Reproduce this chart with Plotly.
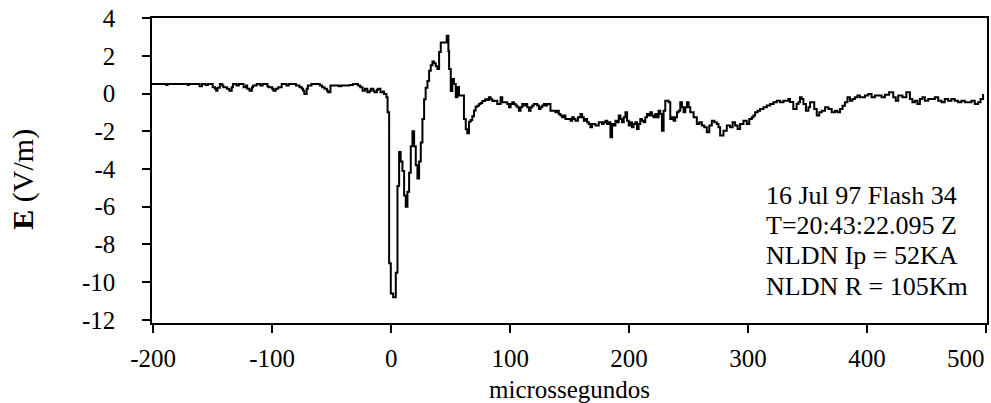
import plotly.graph_objects as go

# ---- data (time in microseconds, field in V/m) ----
t_pre = [-201, -190, -189, -188, -172, -171, -170, -163, -161, -159, -156, -154, -152,
         -150, -148, -147, -146, -144, -142, -141, -138, -136, -134, -133, -130, -128,
         -127, -124, -122, -121, -119, -117, -116, -113, -110, -108, -106, -104, -103,
         -102, -100, -99, -97, -95, -92, -88, -86, -83, -80, -77, -75, -74, -73, -71,
         -70, -67, -63, -60, -58, -56, -54, -53, -51, -46, -44, -42, -38, -35, -32,
         -28, -26, -24, -22, -20, -18, -17, -15, -14, -12, -11, -9, -7, -6, -4]
e_pre = [0.50, 0.50, 0.45, 0.50, 0.50, 0.45, 0.50, 0.50, 0.38, 0.50, 0.45, 0.50, 0.50,
         0.33, 0.25, 0.15, 0.30, 0.50, 0.42, 0.33, 0.25, 0.15, 0.33, 0.50, 0.42, 0.50,
         0.50, 0.33, 0.42, 0.25, 0.15, 0.33, 0.42, 0.50, 0.42, 0.50, 0.50, 0.38, 0.33,
         0.33, 0.25, 0.15, 0.25, 0.33, 0.50, 0.42, 0.50, 0.50, 0.42, 0.33, 0.25, 0.15,
         -0.03, 0.25, 0.42, 0.50, 0.50, 0.42, 0.33, 0.25, 0.15, 0.06, 0.42, 0.42, 0.38,
         0.42, 0.42, 0.45, 0.50, 0.42, 0.33, 0.15, 0.25, 0.06, 0.15, 0.25, 0.15, 0.06,
         0.20, 0.25, 0.06, 0.10, -0.03, -0.20]

t_pulse = [-3, -1.7, -0.3, 1.7, 3.9, 5.3, 6.7, 8, 9.5, 10.9, 12.3, 13.7, 15.1, 16.5,
           17.9, 19.3, 20.7, 22.1, 23.5, 24.9, 26.3, 27.7, 29, 30.5, 31.9, 33.3, 34.7,
           36, 37.5, 38.9, 40.3, 41.7, 44.5, 46.7, 48.1, 48.7, 50.1, 51.4, 52.8, 54.3,
           55.6, 57, 59.8, 61.2, 62.7, 64, 65.4, 66.8, 68.2, 69.6, 71, 72.4, 73.8,
           75.2, 76.6, 79, 80.6, 82.2, 83.6, 85, 86.4, 89.2]
e_pulse = [-1.0, -9.0, -10.6, -10.8, -9.5, -4.9, -3.1, -3.6, -4.1, -5.4, -6.0, -5.2,
           -4.2, -2.8, -2.0, -2.8, -3.8, -4.5, -3.6, -2.6, -1.35, -0.3, 0.3, 0.66,
           1.2, 1.5, 1.7, 1.6, 1.45, 1.3, 2.2, 2.7, 2.7, 3.06, 2.25, 1.3, 0.13, 0.77,
           0.5, -0.2, 0.34, -0.1, -0.1, -1.35, -1.9, -2.1, -1.5, -1.4, -1.2, -0.9,
           -0.7, -0.65, -0.55, -0.5, -0.4, -0.3, -0.35, -0.2, -0.3, -0.4, -0.38, -0.55]

t_tail = [92, 93.4, 95.5, 97.6, 99, 100.4, 101.8, 103.2, 104.6, 106, 107.4, 108.8,
          110.2, 111.6, 113, 114.4, 115.8, 117.2, 118.6, 120, 121.4, 122.8, 124.2,
          125.6, 127, 128.4, 129.7, 131.1, 132.5, 133.9, 136, 138.1, 139.5, 140.9,
          142.3, 143.7, 145.1, 146.5, 148.6, 150.7, 152.1, 153.5, 154.9, 157, 159.1,
          160.5, 161.9, 163.3, 164.7, 166.1, 167.5, 168.9, 170.3, 171.7, 173.1, 174.5,
          175.9, 177.3, 178.7, 180.1, 181.5, 182.9, 184.3, 185.7, 187.1, 188.5, 189.9,
          191.3, 192.7, 194.1, 195.5, 196.9, 198.3, 199.7, 201, 202.4, 203.8, 205.2,
          206.6, 208, 209.4, 210.8, 212.2, 213.6, 215, 216.4, 217.8, 219.2, 220.6,
          222, 223.4, 224.8, 226.2, 227.6, 229, 230.4, 231.8, 233.2, 234.6, 236,
          237.4, 238.8, 240.2, 241.6, 243, 244.4, 245.8, 247.2, 248.6, 250, 251.4,
          254.2, 256.9, 259, 261.1, 263.2, 265.3, 267.4, 269.5, 271.6, 273.7, 275.1,
          276.5, 279.3, 282.1, 284.9, 287, 289.1, 291.2, 293.3, 296.1, 298.9, 301,
          303.1, 304.5, 305.9, 308, 310.1, 312.9, 315.7, 318.5, 321.3, 324.1, 326.9,
          329.7, 332.5, 333.9, 335.2, 338, 340.8, 342.3, 343.6, 345, 346.5, 348.6,
          350.7, 352.1, 353.5, 355.6, 357.7, 359.8, 361.9, 364.7, 367.5, 370.3, 373.1,
          375.2, 377.3, 379.4, 381.4, 383.5, 385.6, 387.7, 389.8, 391.9, 394, 396.1,
          398.2, 401, 403.8, 406.6, 409.4, 412.2, 415, 418.5, 422, 424.1, 426.2,
          429.7, 433, 436, 438.1, 440.2, 442.3, 444.4, 446.5, 448.6, 451.4, 454.2,
          457, 459.8, 462.6, 465.3, 468.1, 470.9, 473.7, 476.5, 479.3, 482.1, 484.9,
          487.7, 490.5, 493.3, 495.4, 497.5, 499.6, 501.7]
e_tail = [-0.2, -0.47, -0.47, -0.56, -0.73, -0.56, -0.47, -0.56, -0.64, -0.73, -0.91,
          -0.73, -0.56, -0.64, -0.56, -0.73, -0.91, -0.73, -0.64, -0.56, -0.56, -0.64,
          -0.82, -0.73, -0.64, -0.56, -0.64, -0.56, -0.56, -0.91, -0.91, -1.0, -0.91,
          -1.09, -1.17, -1.26, -1.17, -1.35, -1.35, -1.44, -1.26, -1.35, -1.44, -1.26,
          -1.09, -1.26, -1.44, -1.35, -1.53, -1.62, -1.79, -1.62, -1.62, -1.70, -1.70,
          -1.53, -1.53, -1.62, -1.53, -1.44, -1.62, -1.53, -2.32, -1.62, -1.70, -1.44,
          -1.53, -1.17, -1.35, -1.53, -1.26, -1.0, -1.44, -1.70, -1.53, -1.79, -1.62,
          -1.53, -1.88, -1.62, -1.35, -1.44, -1.53, -1.26, -1.09, -1.17, -1.0, -1.17,
          -1.26, -1.09, -1.26, -0.91, -1.09, -1.97, -0.91, -0.38, -0.38, -0.47, -1.35,
          -1.26, -1.44, -1.26, -1.0, -0.91, -0.47, -0.73, -1.0, -0.73, -0.47, -0.73,
          -1.0, -1.26, -1.62, -1.53, -1.70, -1.79, -2.05, -1.70, -1.44, -1.53, -1.62,
          -1.79, -2.23, -1.97, -1.70, -1.79, -1.53, -1.70, -1.88, -1.62, -1.44, -1.62,
          -1.35, -1.26, -1.17, -1.0, -0.91, -0.82, -0.73, -0.64, -0.56, -0.47, -0.38,
          -0.47, -0.38, -0.38, -0.29, -0.45, -0.82, -0.56, -0.47, -0.20, -0.29, -0.56,
          -0.91, -0.73, -0.47, -0.47, -0.82, -1.17, -1.0, -0.91, -0.73, -0.82, -1.0,
          -0.91, -1.0, -0.82, -0.65, -0.47, -0.20, -0.38, -0.29, -0.20, -0.11, -0.20,
          -0.20, -0.11, -0.03, -0.20, -0.11, -0.11, -0.20, -0.06, 0.06, -0.20, -0.38,
          -0.11, -0.20, 0.06, -0.29, -0.47, -0.38, -0.56, -0.29, -0.20, -0.38, -0.29,
          -0.29, -0.20, -0.38, -0.47, -0.29, -0.38, -0.29, -0.38, -0.47, -0.38, -0.47,
          -0.47, -0.38, -0.56, -0.47, -0.29, -0.03]

x_ticks = [-200, -100, 0, 100, 200, 300, 400, 500]
x_ticktext = ["-200", "-100", "0", "100", "200", "300", "400", ""]
last_x_label = "500"
y_ticks = [-12, -10, -8, -6, -4, -2, 0, 2, 4]
y_ticktext = ["-12", "-10", "-8", "-6", "-4", "-2", "0", "2", "4"]
info_lines = ["16 Jul 97 Flash 34", "T=20:43:22.095 Z", "NLDN Ip = 52KA", "NLDN R = 105Km"]
info_y = [-5.4, -7.0, -8.6, -10.2]

t_all = t_pre + t_pulse + t_tail
e_all = e_pre + e_pulse + e_tail

FONT = "Liberation Serif, Times New Roman, serif"
FS = 25

fig = go.Figure()
fig.add_trace(go.Scatter(x=t_all, y=e_all, mode="lines", line_shape="hv",
                         line=dict(color="black", width=2), showlegend=False,
                         hoverinfo="skip"))

axis_common = dict(showline=True, linecolor="black", linewidth=1.5, mirror=True,
                   ticks="outside", ticklen=8, tickwidth=1.5, tickcolor="black",
                   showgrid=False, zeroline=False,
                   tickfont=dict(family=FONT, size=FS, color="black"))

fig.update_xaxes(range=[-201, 500.8], tickvals=x_ticks, ticktext=x_ticktext,
                 ticklabelstandoff=4, **axis_common)
fig.update_yaxes(range=[-12.16, 4.0], tickvals=y_ticks, ticktext=y_ticktext,
                 ticklabelstandoff=22, **axis_common)

# x-axis title
fig.add_annotation(x=0.5, y=0, xref="paper", yref="paper", yshift=-66,
                   xanchor="center", yanchor="middle", showarrow=False,
                   text="microssegundos", font=dict(family=FONT, size=FS, color="black"))
# y-axis title
fig.add_annotation(x=0, y=0.47, xref="paper", yref="paper", xshift=-129,
                   xanchor="center", yanchor="middle", showarrow=False, textangle=-90,
                   text="<b>E</b> (V/m)", font=dict(family=FONT, size=30, color="black"))
# last x tick label (squeezed at the right edge)
fig.add_annotation(x=1, y=0, xref="paper", yref="paper", xshift=0, yshift=-20,
                   xanchor="right", yanchor="top", showarrow=False,
                   text=last_x_label, font=dict(family=FONT, size=FS, color="black"))

for line, yy in zip(info_lines, info_y):
    fig.add_annotation(x=313, y=yy, xref="x", yref="y", xanchor="left", yanchor="middle",
                       align="left", showarrow=False, text=line,
                       font=dict(family=FONT, size=26, color="black"))

fig.update_layout(width=991, height=403, margin=dict(l=152, r=2, t=18, b=80),
                  plot_bgcolor="white", paper_bgcolor="white", hovermode=False)

fig.write_html("out.html", config={"displayModeBar": False},
               post_script="document.body.style.margin='0';")
